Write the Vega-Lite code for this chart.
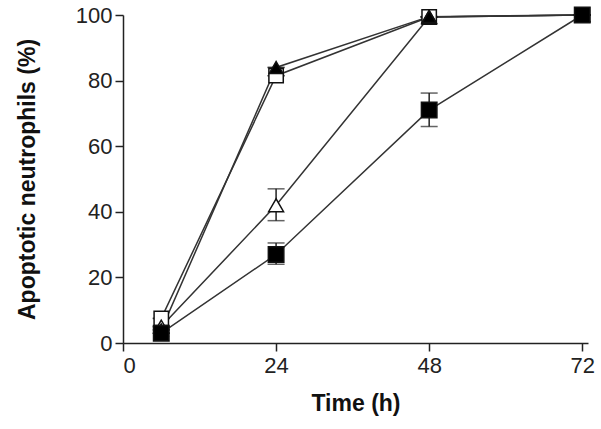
{
  "$schema": "https://vega.github.io/schema/vega-lite/v6.json",
  "width": 465,
  "height": 328,
  "autosize": {"type": "none"},
  "padding": {"left": 123, "top": 15, "right": 13, "bottom": 86},
  "background": "white",
  "config": {
    "view": {"stroke": null},
    "font": "Liberation Sans",
    "axis": {
      "grid": false,
      "domainColor": "#222",
      "domainWidth": 1.5,
      "tickColor": "#222",
      "tickWidth": 1.5,
      "tickSize": 8,
      "labelColor": "#222",
      "labelFont": "Liberation Sans",
      "labelFontSize": 22,
      "labelFontWeight": "normal",
      "titleColor": "#111",
      "titleFont": "Liberation Sans",
      "titleFontSize": 23,
      "titleFontWeight": "bold"
    }
  },
  "data": {
    "values": [
      {"series": "C", "time": 6, "pct": 7.5, "lo": 7.5, "hi": 7.5},
      {"series": "C", "time": 24, "pct": 81.5, "lo": 81.5, "hi": 81.5},
      {"series": "C", "time": 48, "pct": 99.4, "lo": 99.4, "hi": 99.4},
      {"series": "C", "time": 72, "pct": 100, "lo": 100, "hi": 100},
      {"series": "B", "time": 6, "pct": 5, "lo": 5, "hi": 5},
      {"series": "B", "time": 24, "pct": 42, "lo": 37.3, "hi": 47},
      {"series": "B", "time": 48, "pct": 99.4, "lo": 99.4, "hi": 99.4},
      {"series": "B", "time": 72, "pct": 100, "lo": 100, "hi": 100},
      {"series": "D", "time": 6, "pct": 4, "lo": 4, "hi": 4},
      {"series": "D", "time": 24, "pct": 84, "lo": 84, "hi": 84},
      {"series": "D", "time": 48, "pct": 99.5, "lo": 99.5, "hi": 99.5},
      {"series": "D", "time": 72, "pct": 100, "lo": 100, "hi": 100},
      {"series": "A", "time": 6, "pct": 3, "lo": 3, "hi": 3},
      {"series": "A", "time": 24, "pct": 27, "lo": 24, "hi": 30.5},
      {"series": "A", "time": 48, "pct": 71, "lo": 66, "hi": 76.2},
      {"series": "A", "time": 72, "pct": 100, "lo": 100, "hi": 100}
    ]
  },
  "encoding": {
    "x": {
      "field": "time",
      "type": "quantitative",
      "scale": {"domain": [0, 72.9], "nice": false, "zero": true},
      "axis": {"values": [0, 24, 48, 72], "title": "Time (h)", "labelPadding": 4, "titlePadding": 16}
    }
  },
  "layer": [
    {
      "mark": {"type": "line", "color": "#333", "strokeWidth": 1.5},
      "encoding": {
        "y": {
          "field": "pct",
          "type": "quantitative",
          "scale": {"domain": [0, 100], "nice": false},
          "axis": {"values": [0, 20, 40, 60, 80, 100], "title": "Apoptotic neutrophils (%)", "labelPadding": 3, "titlePadding": 36}
        },
        "detail": {"field": "series", "type": "nominal"}
      }
    },
    {
      "mark": {"type": "rule", "color": "#222", "strokeWidth": 1.5},
      "encoding": {
        "y": {"field": "lo", "type": "quantitative"},
        "y2": {"field": "hi"}
      }
    },
    {
      "mark": {"type": "tick", "orient": "horizontal", "color": "#222", "thickness": 1.5, "size": 17},
      "encoding": {"y": {"field": "lo", "type": "quantitative"}}
    },
    {
      "mark": {"type": "tick", "orient": "horizontal", "color": "#222", "thickness": 1.5, "size": 17},
      "encoding": {"y": {"field": "hi", "type": "quantitative"}}
    },
    {
      "mark": {"type": "point", "filled": false, "opacity": 1, "stroke": "#111", "strokeWidth": 1.5},
      "encoding": {
        "y": {"field": "pct", "type": "quantitative"},
        "shape": {
          "field": "series",
          "type": "nominal",
          "scale": {"domain": ["A", "B", "C", "D"], "range": ["square", "triangle-up", "square", "triangle-up"]},
          "legend": null
        },
        "fill": {
          "field": "series",
          "type": "nominal",
          "scale": {"domain": ["A", "B", "C", "D"], "range": ["#000", "#fff", "#fff", "#000"]},
          "legend": null
        },
        "size": {
          "field": "series",
          "type": "nominal",
          "scale": {"domain": ["A", "B", "C", "D"], "range": [240, 190, 210, 190]},
          "legend": null
        }
      }
    }
  ]
}
